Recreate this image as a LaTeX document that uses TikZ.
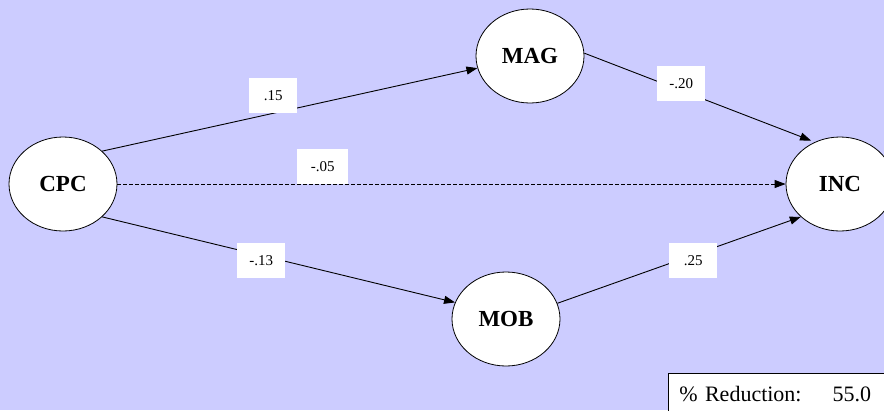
\documentclass[tikz,border=0pt]{standalone}
\usepackage{fontspec}
\setmainfont{Liberation Serif}
\usetikzlibrary{shapes.geometric,arrows.meta}
\definecolor{lavender}{RGB}{204,204,255}
\tikzset{
  var/.style={ellipse,draw,fill=white,line width=0.8pt,minimum width=108pt,
    minimum height=94pt,inner sep=0pt,font=\fontsize{23}{23}\selectfont\bfseries},
  path/.style={line width=0.9pt,-{Triangle[length=11pt,width=8pt]}},
  coef/.style={fill=white,anchor=north west,minimum width=48pt,minimum height=35pt,
    inner sep=0pt,font=\fontsize{15}{15}\selectfont}
}
\begin{document}
\begin{tikzpicture}[x=1pt,y=-1pt]
   \clip (0,0) rectangle (884,410);
   \fill[lavender] (0,0) rectangle (884,410);
   % variables
   \node[var] (cpc) at (63,184) {CPC};
   \node[var] (mag) at (530,56) {MAG};
   \node[var] (mob) at (506,319) {MOB};
   \node[var] (inc) at (840,184) {INC};
   % paths
   \draw[path] (cpc.40) -- (mag.193);
   \draw[path] (cpc.-40) -- (mob.162);
   \draw[path,shorten >=4pt] (mag.3) -- (inc.121);
   \draw[path] (mob.17) -- (inc.220);
   \draw[path,dash pattern=on 4pt off 2pt] (cpc.east) -- (inc.west);
   % coefficients
   \node[coef] (c-mag) at (249,78) {.15};
   \node[coef,minimum width=51pt] (c-inc) at (297,149) {-.05};
   \node[coef] (m-inc) at (657,66) {-.20};
   \node[coef] (c-mob) at (237,243) {-.13};
   \node[coef] (m2-inc) at (669,243) {.25};
   % reduction box
   \node[draw,fill=white,line width=0.8pt,anchor=north west,minimum height=42pt,
     inner xsep=11pt,text width=200pt,align=left,font=\fontsize{22}{22}\selectfont]
     (red) at (668,373) {\% Reduction:\hspace{31pt}55.0};
 \end{tikzpicture}
\end{document}
